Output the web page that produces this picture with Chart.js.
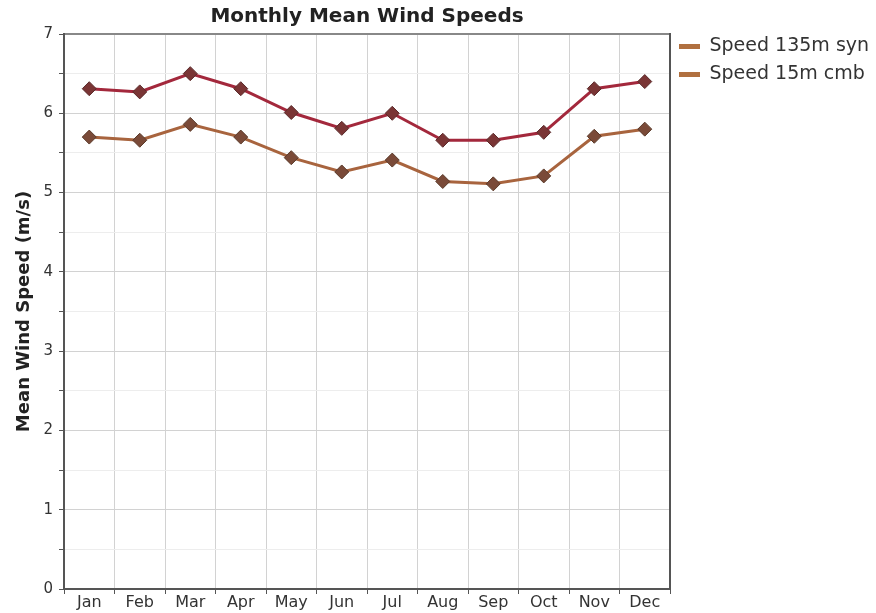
<!DOCTYPE html>
<html>
<head>
<meta charset="utf-8">
<script src="https://cdn.jsdelivr.net/npm/chart.js@4/dist/chart.umd.min.js"></script>
<style>
  html, body { margin: 0; padding: 0; background: #fff; }
  #wrap { width: 876px; height: 613px; }
</style>
</head>
<body>
<div id="wrap"><canvas id="windChart"></canvas></div>
<script>
  const months = ["Jan", "Feb", "Mar", "Apr", "May", "Jun", "Jul", "Aug", "Sep", "Oct", "Nov", "Dec"];
  const speed135 = [6.31, 6.27, 6.50, 6.31, 6.01, 5.81, 6.00, 5.66, 5.66, 5.76, 6.31, 6.40];
  const speed15 = [5.70, 5.66, 5.86, 5.70, 5.44, 5.26, 5.41, 5.14, 5.11, 5.21, 5.71, 5.80];
  const yTicks = [0, 1, 2, 3, 4, 5, 6, 7];

  const font = "'DejaVu Sans', sans-serif";

  new Chart(document.getElementById("windChart"), {
    type: "line",
    data: {
      labels: months,
      datasets: [{
        label: "Speed 135m syn",
        data: speed135,
        borderColor: "#a3283c",
        borderWidth: 3,
        pointStyle: "rectRot",
        pointRadius: 7,
        pointBackgroundColor: "#7a3535",
        pointBorderColor: "#5a2a2a",
        pointBorderWidth: 1,
        tension: 0
      }, {
        label: "Speed 15m cmb",
        data: speed15,
        borderColor: "#a8643e",
        borderWidth: 3,
        pointStyle: "rectRot",
        pointRadius: 7,
        pointBackgroundColor: "#7a4a38",
        pointBorderColor: "#5a3a2a",
        pointBorderWidth: 1,
        tension: 0
      }]
    },
    options: {
      responsive: true,
      maintainAspectRatio: false,
      animation: false,
      layout: { padding: { left: 14, right: 0, top: 0, bottom: 0 } },
      plugins: {
        title: {
          display: true,
          text: "Monthly Mean Wind Speeds",
          fullSize: false,
          color: "#222",
          font: { family: font, size: 20, weight: "bold" },
          padding: { top: 5, bottom: 5 }
        },
        legend: {
          position: "right",
          align: "start",
          maxWidth: 206,
          title: {
            display: true,
            text: " ",
            font: { size: 10 },
            padding: { top: 16, bottom: 0 }
          },
          labels: {
            boxWidth: 21,
            boxHeight: 5,
            padding: 9,
            color: "#333",
            font: { family: font, size: 19 },
            generateLabels: chart => chart.data.datasets.map((ds, i) => ({
              text: ds.label,
              fillStyle: "#b0703f",
              strokeStyle: "#b0703f",
              fontColor: "#333",
              lineWidth: 0,
              datasetIndex: i
            }))
          }
        },
        tooltip: { enabled: false }
      },
      scales: {
        x: {
          offset: true,
          grid: {
            offset: true,
            color: "#d2d2d2",
            tickColor: "#555",
            tickLength: 5
          },
          border: { color: "#555", width: 2 },
          ticks: { color: "#333", font: { family: font, size: 16 }, padding: -1, maxRotation: 0 },
          afterFit: s => { s.height = 24; }
        },
        x2: {
          position: "top",
          labels: months,
          grid: { display: false },
          ticks: { display: false },
          border: { color: "#888", width: 2 },
          afterFit: s => { s.height = 0; }
        },
        y: {
          min: 0,
          max: 7,
          afterBuildTicks: s => {
            const list = [];
            yTicks.forEach((v, i) => {
              list.push({ value: v });
              if (i < yTicks.length - 1) list.push({ value: v + 0.5 });
            });
            s.ticks = list;
          },
          afterFit: s => { s.width = 50; },
          grid: {
            color: c => Number.isInteger(c.tick.value) ? "#d2d2d2" : "#ededed",
            tickColor: "#555",
            tickLength: 5
          },
          border: { color: "#555", width: 2 },
          ticks: {
            color: "#333",
            font: { family: font, size: 15 },
            padding: 6,
            callback: v => Number.isInteger(v) ? v : ""
          },
          title: {
            display: true,
            text: "Mean Wind Speed (m/s)",
            color: "#222",
            font: { family: font, size: 18, weight: "bold" },
            padding: { top: 0, bottom: 0 }
          }
        },
        y2: {
          position: "right",
          grid: { display: false },
          ticks: { display: false },
          border: { color: "#555", width: 2 },
          afterFit: s => { s.width = 0; }
        }
      }
    }
  });
</script>
</body>
</html>
